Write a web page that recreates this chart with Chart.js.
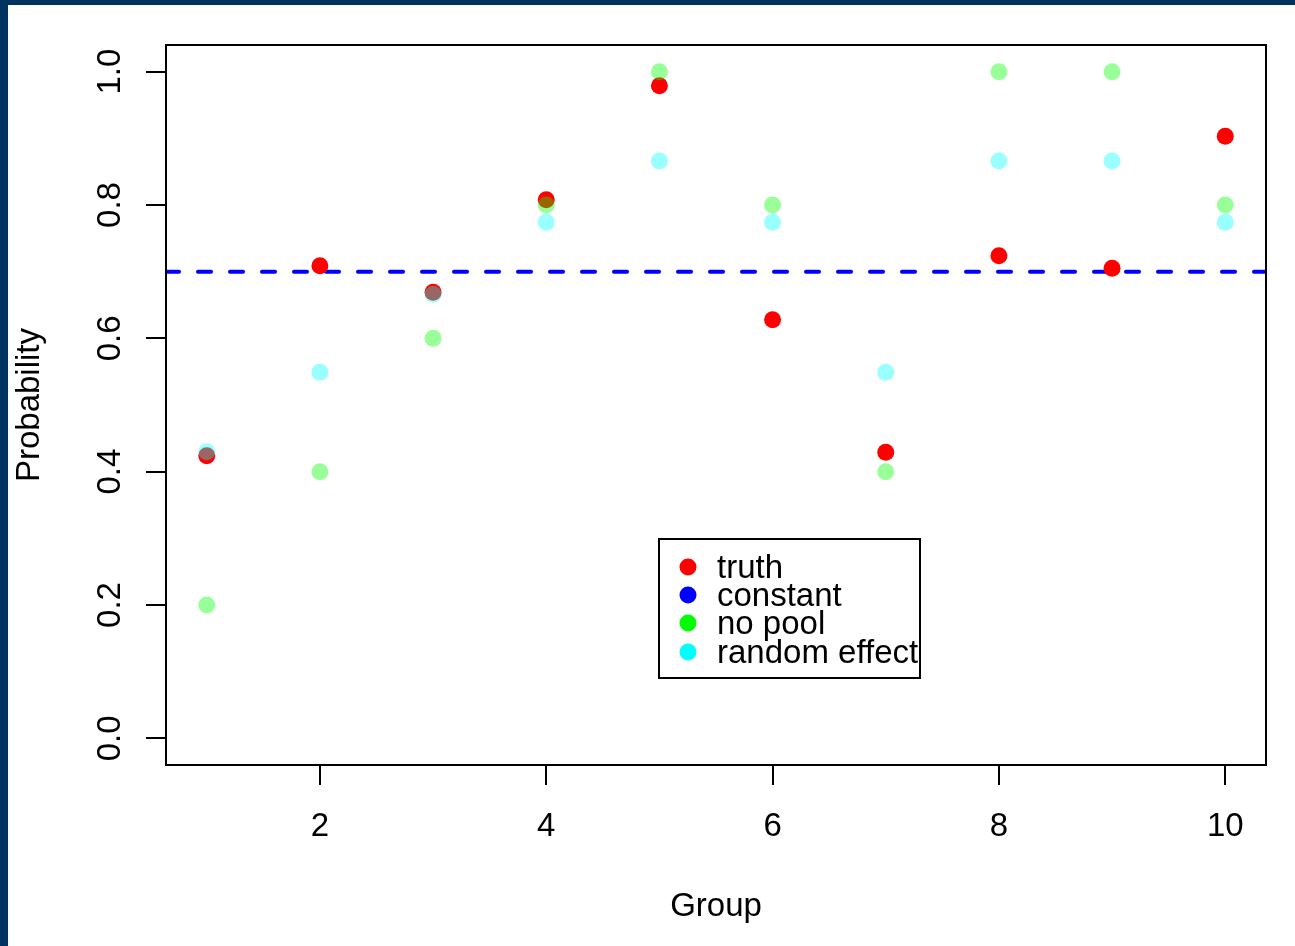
<!DOCTYPE html>
<html><head><meta charset="utf-8">
<script src="https://cdn.jsdelivr.net/npm/chart.js@4"></script>
<style>html,body{margin:0;padding:0;background:#00335f;overflow:hidden}canvas{display:block}</style>
</head><body>
<canvas id="c" width="1295" height="946"></canvas>
<script>
const groups = [1, 2, 3, 4, 5, 6, 7, 8, 9, 10];
const truth = [0.424, 0.709, 0.669, 0.808, 0.979, 0.628, 0.429, 0.724, 0.705, 0.903];
const noPool = [0.2, 0.4, 0.6, 0.8, 1.0, 0.8, 0.4, 1.0, 1.0, 0.8];
const randomEffect = [0.43, 0.549, 0.666, 0.774, 0.866, 0.774, 0.549, 0.866, 0.866, 0.774];
const constantValue = 0.7;
const xTicks = [2, 4, 6, 8, 10];
const yTicks = [0, 0.2, 0.4, 0.6, 0.8, 1.0];
const yTickLabels = ['0.0', '0.2', '0.4', '0.6', '0.8', '1.0'];
const legendLabels = ['truth', 'constant', 'no pool', 'random effect'];
const legendColors = ['#ff0000', '#0000ff', '#00ff00', '#00ffff'];
const xTitle = 'Group';
const yTitle = 'Probability';
const xMin = 0.64, xMax = 10.36, yMin = -0.04, yMax = 1.04;

const FONT = '33px "Liberation Sans", Arial, sans-serif';
const pts = arr => groups.map((g, i) => ({x: g, y: arr[i]}));

const decor = {
  id: 'decor',
  beforeDraw(chart) {
    const ctx = chart.ctx;
    ctx.save();
    ctx.fillStyle = '#00335f';
    ctx.fillRect(0, 0, chart.width, chart.height);
    ctx.fillStyle = '#ffffff';
    ctx.fillRect(8, 5, chart.width - 8, chart.height - 5);
    ctx.restore();
  },
  afterDraw(chart) {
    const ctx = chart.ctx;
    const a = chart.chartArea;
    const xs = chart.scales.x, ys = chart.scales.y;
    ctx.save();
    ctx.strokeStyle = '#000';
    ctx.lineWidth = 2;
    ctx.strokeRect(a.left, a.top, a.right - a.left, a.bottom - a.top);
    ctx.fillStyle = '#000';
    ctx.font = FONT;
    ctx.textAlign = 'center';
    ctx.textBaseline = 'alphabetic';
    xTicks.forEach(v => ctx.fillText(String(v), xs.getPixelForValue(v), 836));
    yTicks.forEach((v, i) => {
      ctx.save();
      ctx.translate(120, ys.getPixelForValue(v));
      ctx.rotate(-Math.PI / 2);
      ctx.fillText(yTickLabels[i], 0, 0);
      ctx.restore();
    });
    ctx.fillText(xTitle, (a.left + a.right) / 2, 916);
    ctx.save();
    ctx.translate(39, (a.top + a.bottom) / 2);
    ctx.rotate(-Math.PI / 2);
    ctx.fillText(yTitle, 0, 0);
    ctx.restore();
    ctx.lineWidth = 2;
    ctx.strokeRect(659, 539, 261, 139);
    const ly = [567, 595, 623, 652];
    ctx.textAlign = 'left';
    legendLabels.forEach((lab, i) => {
      ctx.fillStyle = legendColors[i];
      ctx.beginPath();
      ctx.arc(688, ly[i], 8.5, 0, Math.PI * 2);
      ctx.fill();
      ctx.fillStyle = '#000';
      ctx.fillText(lab, 717, ly[i] + 11);
    });
    ctx.restore();
  }
};

new Chart(document.getElementById('c'), {
  type: 'scatter',
  data: {
    datasets: [
      {label: legendLabels[0], data: pts(truth), backgroundColor: '#ff0000', borderWidth: 0, pointRadius: 8.5, order: 2},
      {label: legendLabels[1], type: 'line', data: [{x: xMin, y: constantValue}, {x: xMax, y: constantValue}],
        borderColor: '#0000ff', borderWidth: 4, borderDash: [13, 19], borderCapStyle: 'round',
        pointRadius: 0, showLine: true, fill: false, clip: 0, order: 3},
      {label: legendLabels[2], data: pts(noPool), backgroundColor: 'rgba(0,255,0,0.4)', borderWidth: 0, pointRadius: 8.5, order: 1},
      {label: legendLabels[3], data: pts(randomEffect), backgroundColor: 'rgba(0,255,255,0.4)', borderWidth: 0, pointRadius: 8.5, order: 0}
    ]
  },
  options: {
    responsive: false,
    animation: false,
    devicePixelRatio: 1,
    layout: {padding: {top: 45, right: 29, left: 0, bottom: 0}},
    plugins: {legend: {display: false}, tooltip: {enabled: false}},
    scales: {
      x: {
        type: 'linear', min: xMin, max: xMax,
        afterBuildTicks: s => { s.ticks = xTicks.map(v => ({value: v})); },
        afterFit: s => { s.height = 181; },
        ticks: {display: false},
        grid: {drawOnChartArea: false, drawTicks: true, tickLength: 20, color: '#000', lineWidth: 2},
        border: {display: false}
      },
      y: {
        type: 'linear', min: yMin, max: yMax,
        afterBuildTicks: s => { s.ticks = yTicks.map(v => ({value: v})); },
        afterFit: s => { s.width = 166; },
        ticks: {display: false},
        grid: {drawOnChartArea: false, drawTicks: true, tickLength: 20, color: '#000', lineWidth: 2},
        border: {display: false}
      }
    }
  },
  plugins: [decor]
});
</script>
</body></html>
